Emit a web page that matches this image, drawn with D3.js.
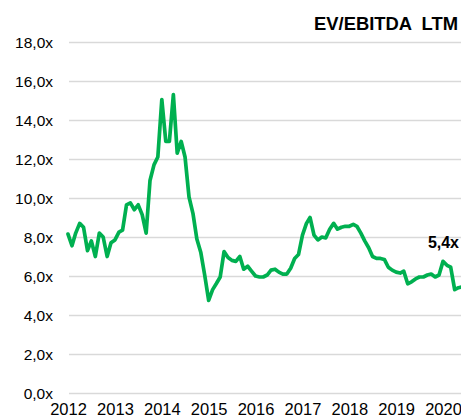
<!DOCTYPE html>
<html><head><meta charset="utf-8">
<script src="https://cdn.jsdelivr.net/npm/d3@7"></script>
<style>html,body{margin:0;padding:0;background:#fff;overflow:hidden}</style>
</head><body><svg id="c" width="461" height="420"></svg>
<script>
const title = "EV/EBITDA  LTM";
const startMonth = "2012-01";
const values = [
  8.15,7.55,8.2,8.7,8.5,7.3,7.8,7.0,8.2,8.0,7.0,7.7,
  7.85,8.25,8.35,9.65,9.75,9.4,9.65,9.15,8.2,10.9,11.7,12.1,
  15.05,12.9,12.9,15.3,12.3,12.9,12.1,10.05,9.2,7.9,7.2,6.05,
  4.75,5.3,5.6,5.95,7.25,6.95,6.8,6.75,7.0,6.35,6.5,6.25,
  6.0,5.95,5.95,6.05,6.3,6.35,6.2,6.1,6.1,6.4,6.9,7.1,
  8.1,8.7,9.0,8.1,7.85,8.0,7.95,8.4,8.7,8.4,8.5,8.55,
  8.55,8.65,8.55,8.2,7.8,7.45,7.0,6.9,6.9,6.85,6.45,6.3,
  6.2,6.15,6.25,5.6,5.7,5.85,5.95,5.95,6.05,6.1,5.95,6.05,
  6.75,6.55,6.45,5.3,5.4,5.45
];
const yTicks = [0,2,4,6,8,10,12,14,16,18];
const xTickYears = [2012,2013,2014,2015,2016,2017,2018,2019,2020];
const lastLabel = "5,4x";

const svg = d3.select("#c");
const parse = d3.timeParse("%Y-%m");
const t0 = parse(startMonth);
const data = values.map((v,i)=>({d:d3.timeMonth.offset(t0,i), v}));

const x = d3.scaleTime().domain([new Date(2012,0,1), new Date(2020,0,1)]).range([68,443]);
const y = d3.scaleLinear().domain([0,18]).range([393,42]);
const fmt = v => d3.format(".1f")(v).replace(".",",")+"x";
const FONT = "Liberation Sans, Arial, sans-serif";

// gridlines + y labels
const yAxis = d3.axisLeft(y).tickValues(yTicks).tickSize(-(461-69)).tickFormat(fmt).tickPadding(16);
const gy = svg.append("g").attr("transform","translate(69,0)").call(yAxis);
gy.select(".domain").remove();
gy.selectAll(".tick line").attr("stroke","#d9d9d9").attr("stroke-width",1.5);
gy.selectAll(".tick text").attr("font-family",FONT)
  .attr("font-size",15.5).attr("fill","#000").attr("x",-16).attr("dy","0.35em");

// x labels
const xAxis = d3.axisBottom(x).tickValues(xTickYears.map(yv=>new Date(yv,0,1))).tickFormat(d3.timeFormat("%Y")).tickSize(0).tickPadding(0);
const gx = svg.append("g").attr("transform","translate(0,403)").call(xAxis);
gx.select(".domain").remove();
gx.selectAll(".tick text").attr("font-family",FONT)
  .attr("font-size",16.5).attr("fill","#000");

// line
svg.append("path").datum(data)
  .attr("fill","none").attr("stroke","#00B050").attr("stroke-width",3.7)
  .attr("stroke-linejoin","round").attr("stroke-linecap","round")
  .attr("d", d3.line().x(d=>x(d.d)).y(d=>y(d.v)));

// title
svg.append("text").attr("x",314).attr("y",30).attr("text-anchor","start")
  .attr("xml:space","preserve").style("white-space","pre")
  .attr("textLength",144).attr("lengthAdjust","spacingAndGlyphs")
  .attr("font-family",FONT).attr("font-weight","bold")
  .attr("font-size",18).attr("fill","#000").text(title);

// last value label
const last = data[data.length-2];
svg.append("text").attr("x",x(last.d)+0.5).attr("y",y(last.v)-40).attr("text-anchor","end")
  .attr("font-family",FONT).attr("font-weight","bold")
  .attr("font-size",16).attr("fill","#000").text(lastLabel);
</script></body></html>
